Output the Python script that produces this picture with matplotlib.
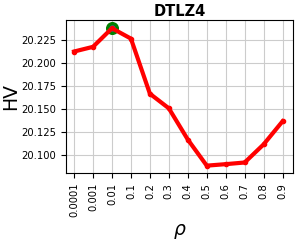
import matplotlib
matplotlib.use("Agg")
import matplotlib.pyplot as plt

categories = ["0.0001", "0.001", "0.01", "0.1", "0.2", "0.3", "0.4", "0.5", "0.6", "0.7", "0.8", "0.9"]
hv = [20.2124, 20.2175, 20.2376, 20.2264, 20.1668, 20.1510, 20.1172, 20.0890, 20.0906, 20.0924, 20.1120, 20.1370]
best_idx = 2

fig, ax = plt.subplots(figsize=(2.99, 2.4), dpi=100)
x = list(range(len(categories)))
ax.scatter([x[best_idx]], [hv[best_idx]], s=70, color="green", zorder=2)
ax.plot([x[best_idx]], [hv[best_idx]], "o", color="#1f77b4", markersize=3.5, zorder=3)
ax.plot(x, hv, color="red", linewidth=3, marker="o", markersize=3, zorder=4)
ax.set_xticks(x)
ax.set_xticklabels(categories, rotation=90, fontsize=7.2)
ax.tick_params(axis="y", labelsize=7.2)
ax.set_yticks([20.100, 20.125, 20.150, 20.175, 20.200, 20.225])
ax.set_ylim(20.081, 20.2466)
ax.set_xlim(-0.42, 11.55)
ax.grid(True, color="#cccccc", linewidth=0.8)
ax.set_axisbelow(True)
ax.set_title("DTLZ4", fontsize=10.5, fontweight="bold", pad=3)
ax.set_ylabel("HV", fontsize=13.5, labelpad=1)
ax.set_xlabel(r"$\rho$", fontsize=13.5, labelpad=3)
fig.subplots_adjust(left=0.221, right=0.98, top=0.917, bottom=0.279)
fig.savefig("out.png", dpi=100)
